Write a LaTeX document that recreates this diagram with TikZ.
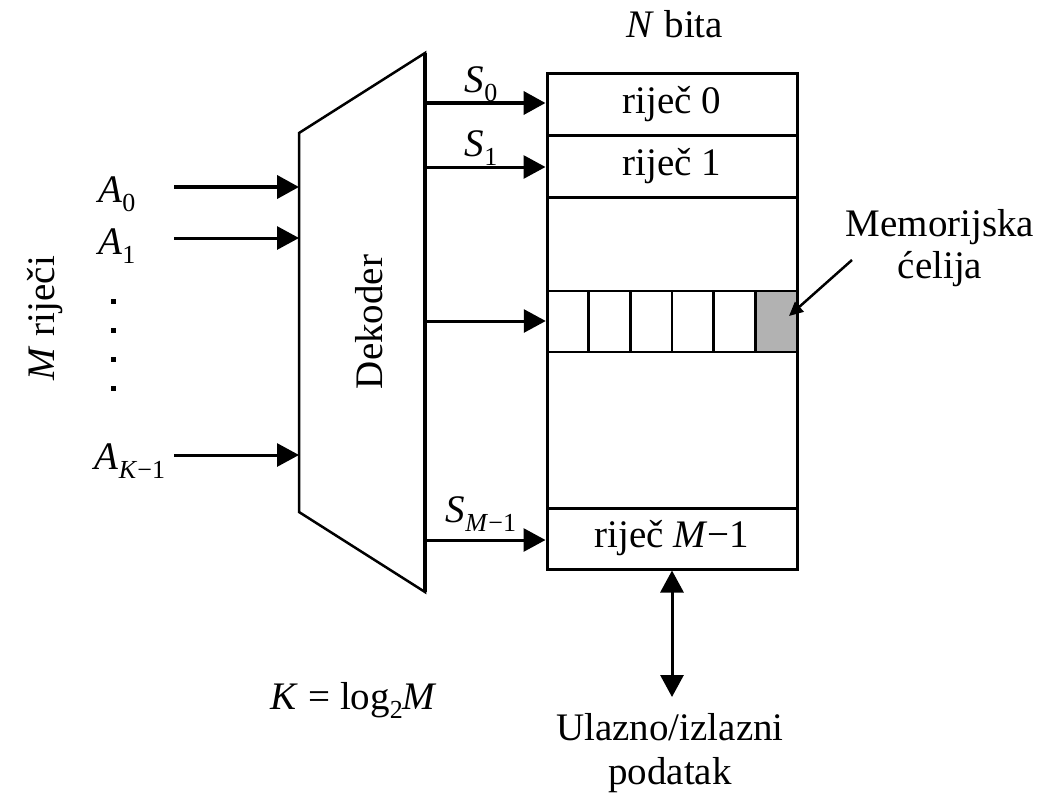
\documentclass[tikz,border=0pt]{standalone}
\usepackage{fontspec}
\setmainfont{Liberation Serif}
\usetikzlibrary{arrows.meta}
\newcommand\mi[1]{\textit{#1}}
\newcommand\sbs[1]{\raisebox{-9pt}{\fontsize{26}{26}\selectfont #1}}
\begin{document}
\begin{tikzpicture}[x=1pt,y=-1pt,
  txt/.style={font=\fontsize{39}{44}\selectfont, inner sep=0pt},
  rowbox/.style={draw, line width=3pt, minimum width=250pt, minimum height=62pt, inner sep=0pt, font=\fontsize{39}{44}\selectfont},
  cellbox/.style={draw, line width=2.5pt, minimum width=41.67pt, minimum height=61pt, inner sep=0pt},
  arr/.style={-{Triangle[length=22pt,width=23pt]}, line width=3pt},
  smallarr/.style={-{Triangle[length=14pt,width=13pt]}, line width=2.5pt},
  dotmark/.style={fill=black, minimum size=5pt, inner sep=0pt}]
\useasboundingbox (0,0) rectangle (1061,793);

% memory block
\draw[line width=3pt] (547,73) rectangle (797,569);
\node[rowbox] (r0) at (672,104) {riječ 0};
\node[rowbox] (r1) at (672,166) {riječ 1};
\node[rowbox, minimum height=61pt] (rM) at (672,538.5) {riječ \mi{M}−1};
\foreach \i in {0,...,5}{
  \node[cellbox] (c\i) at ({547+41.67/2+41.67*\i},321.5) {};
}
\node[cellbox, fill=black!30] (c5) at ({547+41.67/2+41.67*5},321.5) {};
\node[txt] (nbita) at (675,24) {\mi{N} bita};

% decoder
\coordinate (dTL) at (299,133);
\coordinate (dTR) at (425,53);
\coordinate (dBR) at (425,592);
\coordinate (dBL) at (299,512);
\draw[line width=2.5pt, line join=miter] (dTL) -- (dTR) -- (dBR) -- (dBL) -- cycle;
\draw[line width=3.5pt] (dTR) -- (dBR);
\node[txt, rotate=90] (dek) at (369,322) {Dekoder};

% decoder outputs
\coordinate (s0) at (425,103);
\coordinate (s1) at (425,167);
\coordinate (sm) at (425,321);
\coordinate (sM) at (425,540);
\draw[arr, line width=4pt] (s0) -- (s0 -| r0.west);
\draw[arr] (s1) -- (s1 -| r1.west);
\draw[arr] (sm) -- (sm -| c0.west);
\draw[arr] (sM) -- (sM -| rM.west);
\node[txt] (ls0) at (481,84) {\mi{S}\sbs{0}};
\node[txt] (ls1) at (481,148) {\mi{S}\sbs{1}};
\node[txt] (lsM) at (481,514) {\mi{S}\sbs{\mi{M}−1}};

% decoder inputs
\coordinate (a0) at (174,187);
\coordinate (a1) at (174,238);
\coordinate (ak) at (174,455);
\draw[arr, line width=4pt] (a0) -- (a0 -| dTL);
\draw[arr] (a1) -- (a1 -| dTL);
\draw[arr] (ak) -- (ak -| dTL);
\node[txt] (la0) at (117,194) {\mi{A}\sbs{0}};
\node[txt] (la1) at (117,246) {\mi{A}\sbs{1}};
\node[txt] (lak) at (130,461) {\mi{A}\sbs{\mi{K}−1}};
\node[dotmark] (d1) at (113,301) {};
\node[dotmark] (d2) at (113,330) {};
\node[dotmark] (d3) at (113,359) {};
\node[dotmark] (d4) at (113,388) {};
\node[txt, rotate=90] (mrijeci) at (45,318) {\mi{M} riječi};

% memory cell label
\node[txt, align=center] (mc) at (940,248) {Memorijska\\[-2pt]ćelija};
\coordinate (mcs) at (852,260);
\coordinate (mct) at (789,316);
\draw[smallarr] (mcs) -- (mct);

% data I/O
\coordinate (io) at (672,697);
\draw[{Triangle[length=22pt,width=23pt]}-{Triangle[length=22pt,width=23pt]}, line width=3pt] (rM.south) -- (io);
\node[txt, align=center] (iol) at (670,753) {Ulazno/izlazni\\[0pt]podatak};

\node[txt] (keq) at (354,700) {\mi{K} = log\sbs{2}\mi{M}};
\end{tikzpicture}
\end{document}
